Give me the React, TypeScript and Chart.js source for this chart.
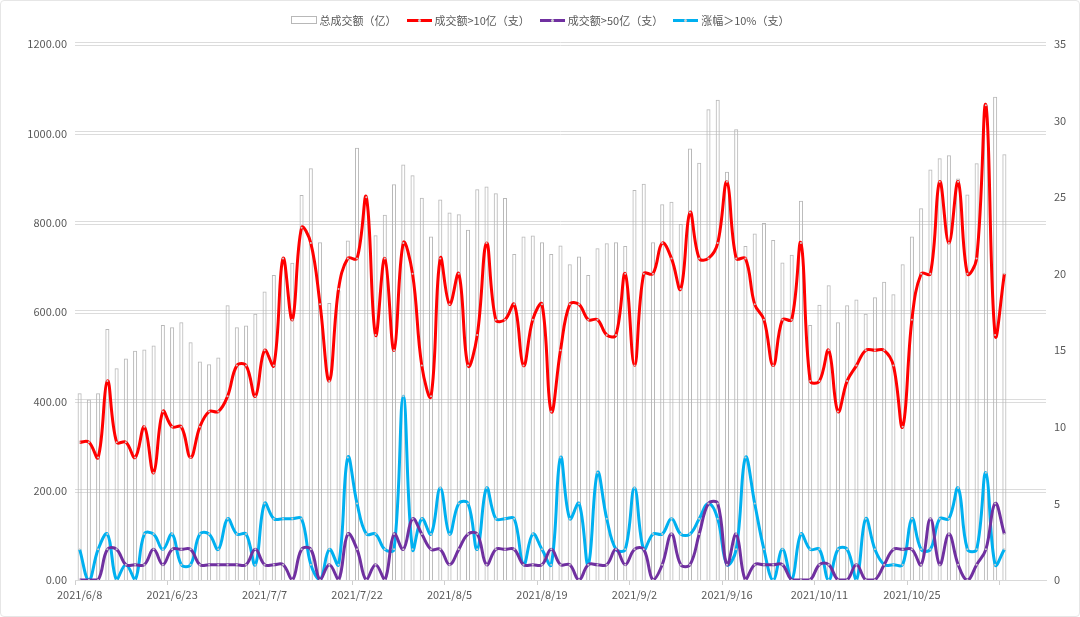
import React, { useEffect, useRef } from 'react';
import { Chart, registerables } from 'chart.js';

Chart.register(...registerables);

const tradingDates = [
  '2021/6/8', '2021/6/9', '2021/6/10', '2021/6/11', '2021/6/15', '2021/6/16', '2021/6/17', '2021/6/18', '2021/6/21', '2021/6/22',
  '2021/6/23', '2021/6/24', '2021/6/25', '2021/6/28', '2021/6/29', '2021/6/30', '2021/7/1', '2021/7/2', '2021/7/5', '2021/7/6',
  '2021/7/7', '2021/7/8', '2021/7/9', '2021/7/12', '2021/7/13', '2021/7/14', '2021/7/15', '2021/7/16', '2021/7/19', '2021/7/20',
  '2021/7/22', '2021/7/23', '2021/7/26', '2021/7/27', '2021/7/28', '2021/7/29', '2021/7/30', '2021/8/2', '2021/8/3', '2021/8/4',
  '2021/8/5', '2021/8/6', '2021/8/9', '2021/8/10', '2021/8/11', '2021/8/12', '2021/8/13', '2021/8/16', '2021/8/17', '2021/8/18',
  '2021/8/19', '2021/8/20', '2021/8/23', '2021/8/24', '2021/8/25', '2021/8/26', '2021/8/27', '2021/8/30', '2021/8/31', '2021/9/1',
  '2021/9/2', '2021/9/3', '2021/9/6', '2021/9/7', '2021/9/8', '2021/9/9', '2021/9/10', '2021/9/13', '2021/9/14', '2021/9/15',
  '2021/9/16', '2021/9/17', '2021/9/22', '2021/9/23', '2021/9/24', '2021/9/27', '2021/9/28', '2021/9/29', '2021/9/30', '2021/10/8',
  '2021/10/11', '2021/10/12', '2021/10/13', '2021/10/14', '2021/10/15', '2021/10/18', '2021/10/19', '2021/10/20', '2021/10/21', '2021/10/22',
  '2021/10/25', '2021/10/26', '2021/10/27', '2021/10/28', '2021/10/29', '2021/11/1', '2021/11/2', '2021/11/3', '2021/11/4', '2021/11/5',
  '2021/11/8', '2021/11/9', '2021/11/10', '2021/11/11', '2021/11/12',
];

// 总成交额（亿）
const totalTurnover = [
  418, 404, 418, 562, 474, 496, 513, 516, 525, 571,
  566, 577, 532, 489, 483, 498, 615, 566, 570, 596,
  646, 683, 720, 710, 862, 922, 756, 620, 648, 760,
  968, 857, 772, 818, 886, 930, 906, 856, 769, 852,
  823, 819, 784, 875, 881, 866, 855, 730, 769, 771,
  756, 730, 749, 707, 724, 683, 743, 754, 756, 748,
  873, 887, 756, 841, 847, 797, 966, 934, 1054, 1075,
  914, 1009, 748, 776, 799, 761, 711, 728, 849, 571,
  616, 660, 577, 615, 628, 596, 633, 668, 640, 707,
  769, 832, 919, 944, 951, 899, 863, 933, 1063, 1082,
  953,
];

// 成交额>10亿（支）
const countOver10 = [
  9, 9, 8, 13, 9, 9, 8, 10, 7, 11,
  10, 10, 8, 10, 11, 11, 12, 14, 14, 12,
  15, 14, 21, 17, 23, 22, 18, 13, 19, 21,
  21, 25, 16, 21, 15, 22, 20, 14, 12, 21,
  18, 20, 14, 16, 22, 17, 17, 18, 14, 17,
  18, 11, 15, 18, 18, 17, 17, 16, 16, 20,
  14, 20, 20, 22, 21, 19, 24, 21, 21, 22,
  26, 21, 21, 18, 17, 14, 17, 17, 22, 13,
  13, 15, 11, 13, 14, 15, 15, 15, 14, 10,
  17, 20, 20, 26, 22, 26, 20, 21, 31, 16,
  20,
];

// 成交额>50亿（支）
const countOver50 = [
  0, 0, 0, 2, 2, 1, 1, 1, 2, 1,
  2, 2, 2, 1, 1, 1, 1, 1, 1, 2,
  1, 1, 1, 0, 2, 2, 0, 1, 0, 3,
  2, 0, 1, 0, 3, 2, 4, 3, 2, 2,
  1, 2, 3, 3, 1, 2, 2, 2, 1, 1,
  1, 2, 1, 1, 0, 1, 1, 1, 2, 1,
  2, 2, 0, 1, 3, 1, 1, 3, 5, 5,
  1, 3, 0, 1, 1, 1, 1, 0, 0, 0,
  1, 1, 0, 0, 1, 0, 0, 1, 2, 2,
  2, 1, 4, 1, 3, 1, 0, 1, 2, 5,
  3,
];

// 涨幅＞10%（支）
const countGain10 = [
  2, 0, 2, 3, 0, 1, 0, 3, 3, 2,
  3, 1, 1, 3, 3, 2, 4, 3, 3, 1,
  5, 4, 4, 4, 4, 1, 0, 2, 1, 8,
  5, 3, 3, 2, 2, 12, 2, 4, 3, 6,
  3, 5, 5, 2, 6, 4, 4, 4, 1, 3,
  2, 1, 8, 4, 5, 1, 7, 4, 2, 2,
  6, 2, 3, 3, 4, 3, 3, 4, 5, 4,
  1, 2, 8, 5, 2, 0, 2, 0, 3, 2,
  2, 0, 2, 2, 0, 4, 2, 1, 1, 1,
  4, 2, 2, 4, 4, 6, 2, 2, 7, 1,
  2,
];

const seriesNames = ['总成交额（亿）', '成交额>10亿（支）', '成交额>50亿（支）', '涨幅＞10%（支）'];
const lineColors = ['#FF0000', '#7030A0', '#00B0F0'];
const barBorderColor = '#b8b8b8';
const textColor = '#595959';
const fontFamily = "'Noto Sans CJK SC', 'Liberation Sans', sans-serif";

const doubleGrid = {
  id: 'doubleGrid',
  beforeDatasetsDraw(chart: any) {
    const { ctx, chartArea, scales } = chart;
    const y = scales.y;
    ctx.save();
    ctx.strokeStyle = '#dcdcdc';
    ctx.lineWidth = 1;
    y.ticks.forEach((t: any) => {
      if (t.value === 0) return;
      const py = Math.round(y.getPixelForValue(t.value));
      [py - 1.5, py + 1.5].forEach((yy) => {
        ctx.beginPath();
        ctx.moveTo(chartArea.left, yy);
        ctx.lineTo(chartArea.right, yy);
        ctx.stroke();
      });
    });
    ctx.restore();
  },
};

function LegendItem({ kind, color, text }: { kind: 'box' | 'line'; color: string; text: string }) {
  return (
    <div style={{ display: 'flex', alignItems: 'center', marginRight: 10 }}>
      {kind === 'box' ? (
        <div style={{ width: 24, height: 6, border: `1px solid ${color}`, background: '#fff' }} />
      ) : (
        <div style={{ position: 'relative', width: 25, height: 3, background: color }}>
          <div style={{ position: 'absolute', left: 11, top: 0, width: 3, height: 3, borderRadius: 2, background: '#cfcfcf' }} />
        </div>
      )}
      <span style={{ marginLeft: 3 }}>{text}</span>
    </div>
  );
}

export default function App() {
  const canvasRef = useRef<HTMLCanvasElement>(null);

  useEffect(() => {
    if (!canvasRef.current) return;
    const lineBase = {
      type: 'line' as const,
      yAxisID: 'y1',
      borderWidth: 3,
      tension: 0.4,
      pointRadius: 1,
      pointBackgroundColor: '#d0d0d0',
      pointBorderWidth: 0,
      pointHoverRadius: 0,
    };
    const chart = new Chart(canvasRef.current, {
      type: 'bar',
      data: {
        labels: tradingDates,
        datasets: [
          {
            type: 'bar',
            label: seriesNames[0],
            data: totalTurnover,
            yAxisID: 'y',
            backgroundColor: 'rgba(255,255,255,0)',
            borderColor: barBorderColor,
            borderWidth: 1,
            barPercentage: 0.44,
            categoryPercentage: 1,
            order: 10,
          } as any,
          { ...lineBase, label: seriesNames[1], data: countOver10, borderColor: lineColors[0], order: 3 } as any,
          { ...lineBase, label: seriesNames[2], data: countOver50, borderColor: lineColors[1], order: 1 } as any,
          { ...lineBase, label: seriesNames[3], data: countGain10, borderColor: lineColors[2], order: 2 } as any,
        ],
      },
      options: {
        animation: false,
        responsive: false,
        devicePixelRatio: 1,
        layout: { padding: { top: 44, left: 0, right: 0, bottom: 0 } },
        plugins: { legend: { display: false }, tooltip: { enabled: false } },
        scales: {
          x: {
            offset: true,
            grid: {
              display: true,
              drawOnChartArea: false,
              drawTicks: true,
              tickLength: 5,
              offset: true,
              color: (c: any) => (c.index % 10 === 0 ? '#cfcfcf' : 'rgba(0,0,0,0)'),
            },
            border: { display: true, color: '#d9d9d9', width: 1 },
            ticks: {
              autoSkip: false,
              maxRotation: 0,
              minRotation: 0,
              padding: 3,
              color: textColor,
              font: { size: 11, family: fontFamily },
              callback: (_v: any, i: number) => (i % 10 === 0 && i < 100 ? tradingDates[i] : ''),
            },
            afterFit: (s: any) => {
              s.height = 37;
            },
          },
          y: {
            position: 'left',
            min: 0,
            max: 1200,
            grid: { display: false, drawTicks: false },
            border: { display: false },
            ticks: {
              stepSize: 200,
              padding: 8,
              color: textColor,
              font: { size: 11, family: fontFamily },
              callback: (v: any) => Number(v).toFixed(2),
            },
            afterFit: (s: any) => {
              s.width = 75;
            },
          },
          y1: {
            position: 'right',
            min: 0,
            max: 35,
            grid: { display: false, drawTicks: false },
            border: { display: false },
            ticks: {
              stepSize: 5,
              padding: 8,
              color: textColor,
              font: { size: 11, family: fontFamily },
            },
            afterFit: (s: any) => {
              s.width = 34;
            },
          },
        },
      },
      plugins: [doubleGrid],
    });
    return () => chart.destroy();
  }, []);

  return (
    <div style={{ position: 'absolute', left: 0, top: 0, width: 1080, height: 617, background: '#fff', overflow: 'hidden' }}>
      <canvas ref={canvasRef} width={1080} height={617} style={{ position: 'absolute', left: 0, top: 0, display: 'block' }} />
      <div
        style={{
          position: 'absolute',
          left: 0,
          top: 11,
          width: 1080,
          height: 18,
          display: 'flex',
          justifyContent: 'center',
          alignItems: 'center',
          fontFamily,
          fontSize: 11,
          color: textColor,
          paddingLeft: 10,
          boxSizing: 'border-box',
        }}
      >
        <LegendItem kind="box" color={barBorderColor} text={seriesNames[0]} />
        <LegendItem kind="line" color={lineColors[0]} text={seriesNames[1]} />
        <LegendItem kind="line" color={lineColors[1]} text={seriesNames[2]} />
        <LegendItem kind="line" color={lineColors[2]} text={seriesNames[3]} />
      </div>
      <div
        style={{
          position: 'absolute',
          left: 0,
          top: 0,
          width: 1080,
          height: 617,
          boxSizing: 'border-box',
          border: '1px solid #e6e6e6',
          borderRadius: 4,
          pointerEvents: 'none',
        }}
      />
    </div>
  );
}
